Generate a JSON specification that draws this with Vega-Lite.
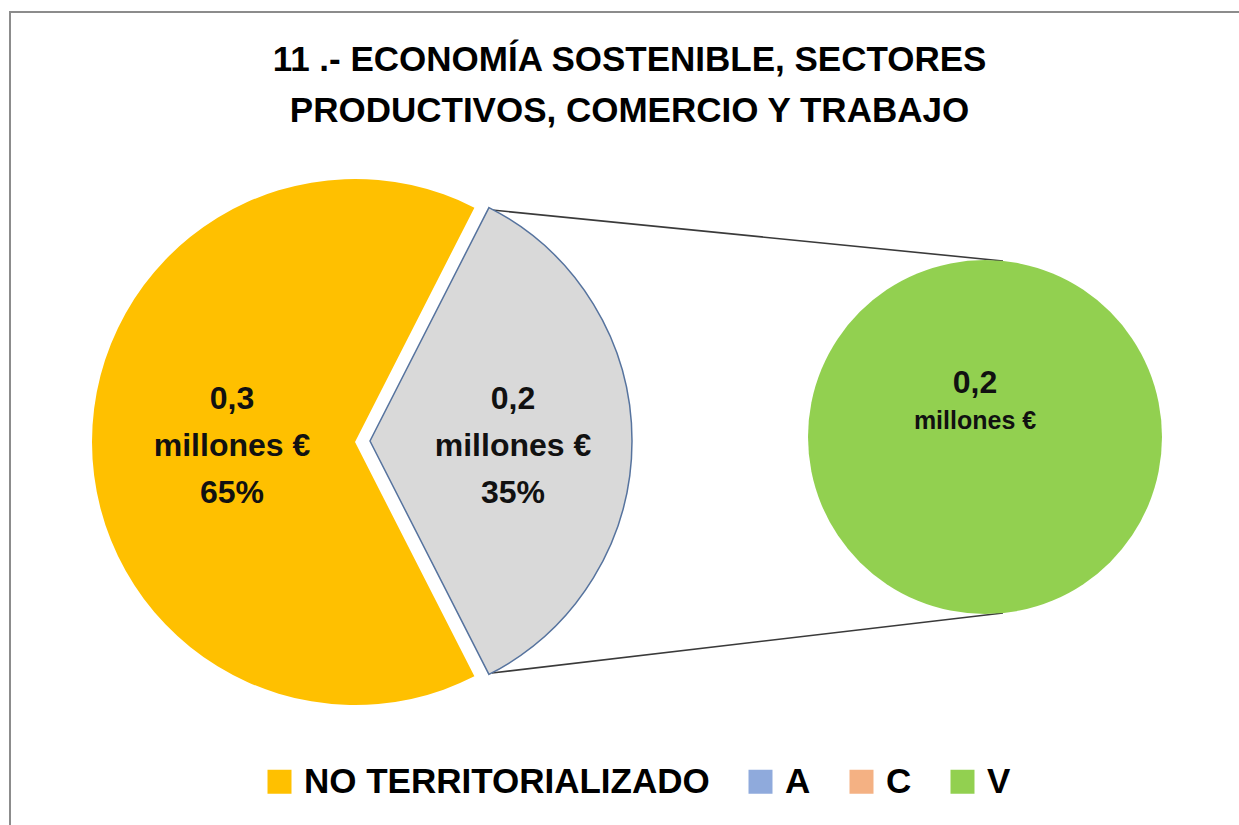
{
  "$schema": "https://vega.github.io/schema/vega-lite/v6.json",
  "width": 1239,
  "height": 825,
  "padding": 0,
  "autosize": "none",
  "background": "white",
  "config": {
    "view": {"stroke": null},
    "legend": {
      "orient": "none",
      "legendX": 262,
      "legendY": 764,
      "direction": "horizontal",
      "padding": 0,
      "symbolType": "square",
      "symbolSize": 576,
      "symbolStrokeWidth": 0,
      "symbolOpacity": 1,
      "labelFont": "Liberation Sans",
      "labelFontSize": 35,
      "labelFontWeight": "bold",
      "labelColor": "#000000",
      "labelOffset": 7,
      "labelLimit": 700,
      "columnPadding": 33
    }
  },
  "title": {
    "text": ["11 .- ECONOMÍA SOSTENIBLE, SECTORES", "PRODUCTIVOS, COMERCIO Y TRABAJO"],
    "anchor": "middle",
    "frame": "group",
    "font": "Liberation Sans",
    "fontSize": 35,
    "fontWeight": "bold",
    "color": "#000000",
    "lineHeight": 51,
    "baseline": "alphabetic",
    "offset": 0,
    "dx": 10,
    "dy": 157
  },
  "data": {
    "values": [
      {"categoria": "NO TERRITORIALIZADO", "importe": 0.325},
      {"categoria": "A", "importe": 0},
      {"categoria": "C", "importe": 0},
      {"categoria": "V", "importe": 0.175}
    ]
  },
  "transform": [
    {"calculate": "datum.categoria === 'NO TERRITORIALIZADO' ? 'principal' : 'secundario'", "as": "grupo"},
    {"joinaggregate": [{"op": "sum", "field": "importe", "as": "total"}]},
    {"calculate": "100 * datum.importe / datum.total", "as": "pct"},
    {"stack": "pct", "groupby": [], "sort": [{"field": "grupo", "order": "descending"}, {"field": "categoria", "order": "ascending"}], "as": ["p0", "p1"]}
  ],
  "resolve": {"scale": {"theta": "independent"}},
  "layer": [
    {
      "mark": {"type": "rect", "fill": null, "stroke": "#8c8c8c", "strokeWidth": 2},
      "transform": [{"filter": "datum.categoria === 'NO TERRITORIALIZADO'"}],
      "encoding": {
        "x": {"datum": 10, "type": "quantitative", "scale": {"domain": [0, 1239], "nice": false, "zero": false}, "axis": null},
        "x2": {"datum": 1260},
        "y": {"datum": 12, "type": "quantitative", "scale": {"domain": [0, 825], "nice": false, "zero": false, "reverse": true}, "axis": null},
        "y2": {"datum": 850}
      }
    },
    {
      "mark": {"type": "rule", "stroke": "#3a3a3a", "strokeWidth": 1.6},
      "transform": [{"filter": "datum.categoria === 'NO TERRITORIALIZADO'"}],
      "encoding": {
        "x": {"datum": 492, "type": "quantitative", "scale": {"domain": [0, 1239], "nice": false, "zero": false}, "axis": null},
        "x2": {"datum": 1003},
        "y": {"datum": 210, "type": "quantitative", "scale": {"domain": [0, 825], "nice": false, "zero": false, "reverse": true}, "axis": null},
        "y2": {"datum": 261}
      }
    },
    {
      "mark": {"type": "rule", "stroke": "#3a3a3a", "strokeWidth": 1.6},
      "transform": [{"filter": "datum.categoria === 'NO TERRITORIALIZADO'"}],
      "encoding": {
        "x": {"datum": 492, "type": "quantitative", "scale": {"domain": [0, 1239], "nice": false, "zero": false}, "axis": null},
        "x2": {"datum": 1003},
        "y": {"datum": 673, "type": "quantitative", "scale": {"domain": [0, 825], "nice": false, "zero": false, "reverse": true}, "axis": null},
        "y2": {"datum": 613}
      }
    },
    {
      "transform": [{"filter": "datum.categoria === 'NO TERRITORIALIZADO'"}],
      "layer": [
        {
          "mark": {"type": "arc", "radius": 263},
          "encoding": {
            "x": {"datum": 355, "type": "quantitative", "scale": {"domain": [0, 1239], "nice": false, "zero": false}, "axis": null},
            "y": {"datum": 442, "type": "quantitative", "scale": {"domain": [0, 825], "nice": false, "zero": false, "reverse": true}, "axis": null},
            "theta": {"field": "p0", "type": "quantitative", "stack": null, "scale": {"domain": [0, 100], "range": [0.4712389, 6.7544185]}},
            "theta2": {"field": "p1"},
            "color": {
              "field": "categoria",
              "type": "nominal",
              "scale": {"domain": ["NO TERRITORIALIZADO", "A", "C", "V"], "range": ["#FFC000", "#8FAADC", "#F4B183", "#92D050"]},
              "legend": {"title": null, "symbolType": "square"}
            }
          }
        },
        {
          "transform": [{"calculate": "replace(format(datum.importe, '.1f'), '.', ',') + '\\nmillones €\\n' + format(datum.pct, '.0f') + '%'", "as": "etiqueta"}],
          "mark": {"type": "text", "font": "Liberation Sans", "fontSize": 32, "fontWeight": "bold", "color": "#111111", "align": "center", "baseline": "alphabetic", "lineBreak": "\n", "lineHeight": 47},
          "encoding": {
            "x": {"datum": 232, "type": "quantitative", "scale": {"domain": [0, 1239], "nice": false, "zero": false}, "axis": null},
            "y": {"datum": 409, "type": "quantitative", "scale": {"domain": [0, 825], "nice": false, "zero": false, "reverse": true}, "axis": null},
            "text": {"field": "etiqueta", "type": "nominal"}
          }
        }
      ]
    },
    {
      "transform": [
        {"filter": "datum.grupo === 'secundario'"},
        {"aggregate": [
          {"op": "sum", "field": "importe", "as": "importe"},
          {"op": "sum", "field": "pct", "as": "pct"},
          {"op": "min", "field": "p0", "as": "p0"},
          {"op": "max", "field": "p1", "as": "p1"}
        ]}
      ],
      "layer": [
        {
          "mark": {"type": "arc", "radius": 262, "fill": "#D9D9D9", "stroke": "#56739e", "strokeWidth": 1.5},
          "encoding": {
            "x": {"datum": 370, "type": "quantitative", "scale": {"domain": [0, 1239], "nice": false, "zero": false}, "axis": null},
            "y": {"datum": 441, "type": "quantitative", "scale": {"domain": [0, 825], "nice": false, "zero": false, "reverse": true}, "axis": null},
            "theta": {"field": "p0", "type": "quantitative", "stack": null, "scale": {"domain": [0, 100], "range": [0.4712389, 6.7544185]}},
            "theta2": {"field": "p1"}
          }
        },
        {
          "transform": [{"calculate": "replace(format(datum.importe, '.1f'), '.', ',') + '\\nmillones €\\n' + format(datum.pct, '.0f') + '%'", "as": "etiqueta"}],
          "mark": {"type": "text", "font": "Liberation Sans", "fontSize": 32, "fontWeight": "bold", "color": "#111111", "align": "center", "baseline": "alphabetic", "lineBreak": "\n", "lineHeight": 47},
          "encoding": {
            "x": {"datum": 513, "type": "quantitative", "scale": {"domain": [0, 1239], "nice": false, "zero": false}, "axis": null},
            "y": {"datum": 409, "type": "quantitative", "scale": {"domain": [0, 825], "nice": false, "zero": false, "reverse": true}, "axis": null},
            "text": {"field": "etiqueta", "type": "nominal"}
          }
        }
      ]
    },
    {
      "transform": [{"filter": "datum.grupo === 'secundario'"}],
      "mark": {"type": "arc", "radius": 177},
      "encoding": {
        "x": {"datum": 985, "type": "quantitative", "scale": {"domain": [0, 1239], "nice": false, "zero": false}, "axis": null},
        "y": {"datum": 437, "type": "quantitative", "scale": {"domain": [0, 825], "nice": false, "zero": false, "reverse": true}, "axis": null},
        "theta": {"field": "importe", "type": "quantitative", "stack": true},
        "color": {"field": "categoria", "type": "nominal"},
        "order": {"field": "categoria"}
      }
    },
    {
      "transform": [
        {"filter": "datum.categoria === 'V'"},
        {"calculate": "replace(format(datum.importe, '.1f'), '.', ',')", "as": "importe_txt"}
      ],
      "layer": [
        {
          "mark": {"type": "text", "font": "Liberation Sans", "fontSize": 32, "fontWeight": "bold", "color": "#111111", "align": "center", "baseline": "alphabetic"},
          "encoding": {
            "x": {"datum": 975, "type": "quantitative", "scale": {"domain": [0, 1239], "nice": false, "zero": false}, "axis": null},
            "y": {"datum": 393, "type": "quantitative", "scale": {"domain": [0, 825], "nice": false, "zero": false, "reverse": true}, "axis": null},
            "text": {"field": "importe_txt", "type": "nominal"}
          }
        },
        {
          "mark": {"type": "text", "font": "Liberation Sans", "fontSize": 25, "fontWeight": "bold", "color": "#111111", "align": "center", "baseline": "alphabetic"},
          "encoding": {
            "x": {"datum": 975, "type": "quantitative", "scale": {"domain": [0, 1239], "nice": false, "zero": false}, "axis": null},
            "y": {"datum": 429, "type": "quantitative", "scale": {"domain": [0, 825], "nice": false, "zero": false, "reverse": true}, "axis": null},
            "text": {"value": "millones €"}
          }
        }
      ]
    }
  ]
}
